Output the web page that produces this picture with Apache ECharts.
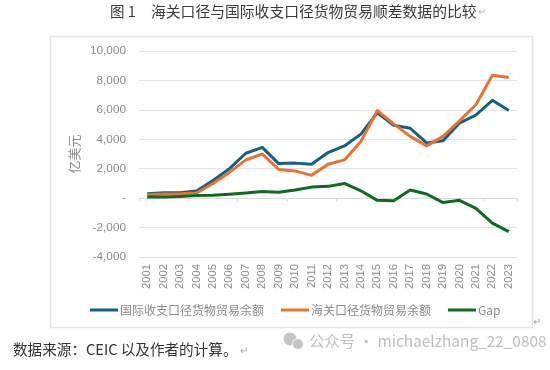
<!DOCTYPE html>
<html>
<head>
<meta charset="utf-8">
<style>
  html, body { margin: 0; padding: 0; background: #fff; }
  #chart { width: 550px; height: 370px; }
</style>
</head>
<body>
<div id="chart"></div>
<script src="https://cdn.jsdelivr.net/npm/echarts@6/dist/echarts.min.js"></script>
<script>
const years = ['2001', '2002', '2003', '2004', '2005', '2006', '2007', '2008', '2009', '2010', '2011', '2012',
  '2013', '2014', '2015', '2016', '2017', '2018', '2019', '2020', '2021', '2022', '2023']
const bop = [300, 360, 370, 480, 1200, 2000, 3050, 3450, 2350, 2380, 2300, 3100,
  3550, 4350, 5800, 4950, 4750, 3750, 3900, 5100, 5650, 6650, 5950]
const customs = [230, 280, 300, 350, 1000, 1750, 2600, 3000, 1950, 1850, 1550, 2300,
  2600, 3850, 5950, 5050, 4200, 3550, 4200, 5250, 6350, 8350, 8200]
const gap = [70, 80, 120, 180, 200, 270, 350, 450, 400, 550, 750, 800,
  1000, 500, -150, -180, 550, 280, -300, -150, -700, -1700, -2280]

const grey = '#8c8c8c'
const cjk = '"Noto Sans CJK SC", sans-serif'
const chart = echarts.init(document.getElementById('chart'))

const makeLine = (name, data, color) => ({
  name,
  data,
  type: 'line',
  xAxisIndex: 0,
  symbol: 'none',
  lineStyle: { color, width: 3, join: 'round' },
  itemStyle: { color }
})

chart.setOption({
  animation: false,
  backgroundColor: '#fff',
  grid: { left: 139, right: 33, top: 51, bottom: 113 },
  legend: {
    left: 85,
    top: 299,
    itemWidth: 28,
    itemHeight: 3,
    itemGap: 17,
    icon: 'rect',
    textStyle: { color: '#8c8c8c', fontSize: 12, fontFamily: cjk, padding: [0, 0, 0, -3] },
    data: ['国际收支口径货物贸易余额', '海关口径货物贸易余额', 'Gap']
  },
  xAxis: [
    {
      type: 'category',
      data: years,
      axisLine: { onZero: true, lineStyle: { color: '#d9d9d9', width: 1 } },
      axisTick: { show: true, length: 3, lineStyle: { color: '#d9d9d9' } },
      axisLabel: { show: false }
    },
    {
      type: 'category',
      position: 'bottom',
      data: years,
      axisLine: { show: false, onZero: false },
      axisTick: { show: false },
      axisLabel: {
        interval: 0,
        rotate: 90,
        margin: 7,
        color: grey,
        fontSize: 11.2,
        fontFamily: '"Liberation Sans", sans-serif'
      }
    }
  ],
  yAxis: {
    type: 'value',
    min: -4000,
    max: 10000,
    interval: 2000,
    axisLine: { show: false },
    axisTick: { show: false },
    splitLine: { lineStyle: { color: '#e2e2e2', width: 1 } },
    axisLabel: {
      margin: 13,
      color: grey,
      fontSize: 11.8,
      fontFamily: '"Liberation Sans", sans-serif',
      formatter: v => v === 0 ? '-' : v.toLocaleString('en-US')
    }
  },
  series: [
    makeLine('国际收支口径货物贸易余额', bop, '#156082'),
    makeLine('海关口径货物贸易余额', customs, '#e97132'),
    makeLine('Gap', gap, '#0f6b1d')
  ],
  graphic: [
    // 外框
    {
      type: 'rect',
      silent: true,
      shape: { x: 50.5, y: 36.5, width: 482, height: 291 },
      style: { fill: 'none', stroke: '#e4e4e4', lineWidth: 1.5 }
    },
    {
      type: 'text',
      x: 110,
      y: 4,
      style: { text: '图 1', fill: '#3a3a3a', font: '14.5px ' + cjk }
    },
    {
      type: 'text',
      x: 151,
      y: 4,
      style: { text: '海关口径与国际收支口径货物贸易顺差数据的比较', fill: '#3a3a3a', font: '14.8px ' + cjk }
    },
    {
      type: 'text',
      x: 478,
      y: 6,
      style: { text: '↵', fill: '#b0b0b0', font: '10px ' + cjk }
    },
    {
      type: 'text',
      x: 74,
      y: 154,
      rotation: Math.PI / 2,
      style: { text: '亿美元', fill: grey, font: '13px ' + cjk, align: 'center', verticalAlign: 'middle' }
    },
    {
      type: 'text',
      x: 533,
      y: 316,
      style: { text: '↵', fill: '#a0a0a0', font: '10px ' + cjk }
    },
    {
      type: 'text',
      x: 13,
      y: 342,
      style: { text: '数据来源：CEIC 以及作者的计算。', fill: '#333', font: '14.6px ' + cjk }
    },
    {
      type: 'text',
      x: 240,
      y: 345,
      style: { text: '↵', fill: '#a0a0a0', font: '10px ' + cjk }
    },
    // 水印
    {
      type: 'circle',
      silent: true,
      shape: { cx: 290, cy: 339, r: 6.5 },
      style: { fill: '#c4c4c4' }
    },
    {
      type: 'circle',
      silent: true,
      shape: { cx: 298, cy: 344, r: 5.5 },
      style: { fill: '#c4c4c4', stroke: '#fff', lineWidth: 1 }
    },
    {
      type: 'text',
      x: 309,
      y: 333,
      style: { text: '公众号 · michaelzhang_22_0808', fill: '#bdbdbd', font: '15.4px ' + cjk }
    }
  ]
})
</script>
</body>
</html>
